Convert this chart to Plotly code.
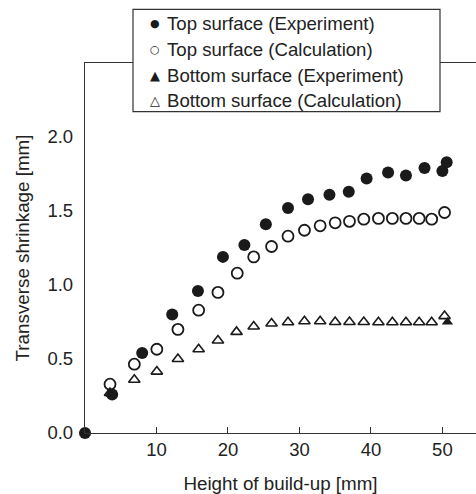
import plotly.graph_objects as go

# Top surface (Experiment)
top_exp_x = [0, 3.8, 8.0, 12.2, 15.8, 19.3, 22.3, 25.3, 28.4, 31.2, 34.2, 36.9, 39.4, 42.4, 44.9, 47.5, 50.0, 50.6]
top_exp_y = [0.0, 0.26, 0.54, 0.80, 0.96, 1.19, 1.27, 1.41, 1.52, 1.58, 1.61, 1.63, 1.72, 1.76, 1.74, 1.79, 1.77, 1.83]

# Top surface (Calculation)
top_calc_x = [3.5, 6.9, 10.05, 13.0, 15.9, 18.6, 21.3, 23.6, 26.1, 28.4, 30.7, 32.9, 35.0, 37.0, 39.0, 41.05, 43.0, 44.9, 46.75, 48.5, 50.3]
top_calc_y = [0.33, 0.465, 0.566, 0.70, 0.83, 0.95, 1.08, 1.19, 1.26, 1.33, 1.37, 1.40, 1.42, 1.43, 1.445, 1.45, 1.45, 1.45, 1.45, 1.445, 1.49]

# Bottom surface (Experiment)
bot_exp_x = [0, 3.7, 50.7]
bot_exp_y = [0.0, 0.26, 0.75]

# Bottom surface (Calculation)
bot_calc_x = [3.5, 6.9, 10.05, 13.0, 15.9, 18.6, 21.2, 23.6, 26.1, 28.4, 30.7, 32.9, 35.0, 37.0, 39.0, 41.05, 43.0, 44.9, 46.75, 48.5, 50.3]
bot_calc_y = [0.27, 0.36, 0.415, 0.50, 0.566, 0.625, 0.683, 0.72, 0.74, 0.748, 0.755, 0.755, 0.75, 0.75, 0.75, 0.748, 0.748, 0.748, 0.748, 0.748, 0.79]

series_names = ["Top surface (Experiment)", "Top surface (Calculation)",
                "Bottom surface (Experiment)", "Bottom surface (Calculation)"]
legend_glyphs = ["\u25CF", "\u25CB", "\u25B2", "\u25B3"]
legend_glyph_sizes = [11, 11, 13, 13]

x_ticks = [10, 20, 30, 40, 50]
y_ticks = [0.0, 0.5, 1.0, 1.5, 2.0]
y_tick_text = ["0.0", "0.5", "1.0", "1.5", "2.0"]

INK = "#1a1a1a"
LINE = "#333333"
TEXT = "#222222"
FONT = "Liberation Sans, Arial, Helvetica, sans-serif"

W, H = 476, 494
ML, MR, MT, MB = 85, 0, 63, 61
PW, PH = W - ML - MR, H - MT - MB


def px_x(px):
    return (px - ML) / PW


def px_y(py):
    return 1 + (MT - py) / PH


fig = go.Figure()
fig.add_trace(go.Scatter(x=top_exp_x, y=top_exp_y, mode="markers", name=series_names[0],
                         marker=dict(symbol="circle", size=12, color=INK), cliponaxis=False))
fig.add_trace(go.Scatter(x=top_calc_x, y=top_calc_y, mode="markers", name=series_names[1],
                         marker=dict(symbol="circle-open", size=11, color=INK, line=dict(width=1.8, color=INK)),
                         cliponaxis=False))
fig.add_trace(go.Scatter(x=bot_exp_x, y=bot_exp_y, mode="markers", name=series_names[2],
                         marker=dict(symbol="triangle-up", size=10, color=INK), cliponaxis=False))
fig.add_trace(go.Scatter(x=bot_calc_x, y=bot_calc_y, mode="markers", name=series_names[3],
                         marker=dict(symbol="triangle-up-open", size=10, color=INK, line=dict(width=1.6, color=INK)),
                         cliponaxis=False))

# legend box drawn as a shape with text entries (matches the boxed key of the original)
fig.add_shape(type="rect", xref="paper", yref="paper",
              x0=px_x(133), x1=px_x(440), y0=px_y(111.7), y1=px_y(9.3),
              line=dict(color=LINE, width=1.2), fillcolor="white", layer="above")
row_y = [24, 50, 75.5, 100]
for glyph, gsize, name, ry in zip(legend_glyphs, legend_glyph_sizes, series_names, row_y):
    fig.add_annotation(xref="paper", yref="paper", x=px_x(155), y=px_y(ry),
                       text=glyph, showarrow=False, xanchor="center", yanchor="middle",
                       font=dict(family="DejaVu Sans", size=gsize, color=INK))
    fig.add_annotation(xref="paper", yref="paper", x=px_x(165), y=px_y(ry),
                       text=name, showarrow=False, xanchor="left", yanchor="middle",
                       font=dict(family=FONT, size=18.6, color=TEXT))

fig.update_layout(
    width=W, height=H,
    margin=dict(l=ML, r=MR, t=MT, b=MB),
    paper_bgcolor="white", plot_bgcolor="white",
    font=dict(family=FONT, size=18.5, color=TEXT),
    showlegend=False,
    xaxis=dict(range=[0, 54.7], tickvals=x_ticks, ticks="inside", ticklen=6, tickwidth=1.2,
               tickcolor=LINE, showline=True, linecolor=LINE, linewidth=1.3, mirror=True,
               showgrid=False, zeroline=False,
               title=dict(text="Height of build-up [mm]", font=dict(size=18.8), standoff=18)),
    yaxis=dict(range=[0, 2.5], tickvals=y_ticks, ticktext=y_tick_text, ticks="",
               ticklabelstandoff=7,
               showline=True, linecolor=LINE, linewidth=1.3, showgrid=False, zeroline=False,
               title=dict(text="Transverse shrinkage [mm]", font=dict(size=18.8), standoff=12)),
)

fig.write_html("out.html", config={"displayModeBar": False},
               post_script="document.body.style.margin='0';document.body.style.overflow='hidden';")
